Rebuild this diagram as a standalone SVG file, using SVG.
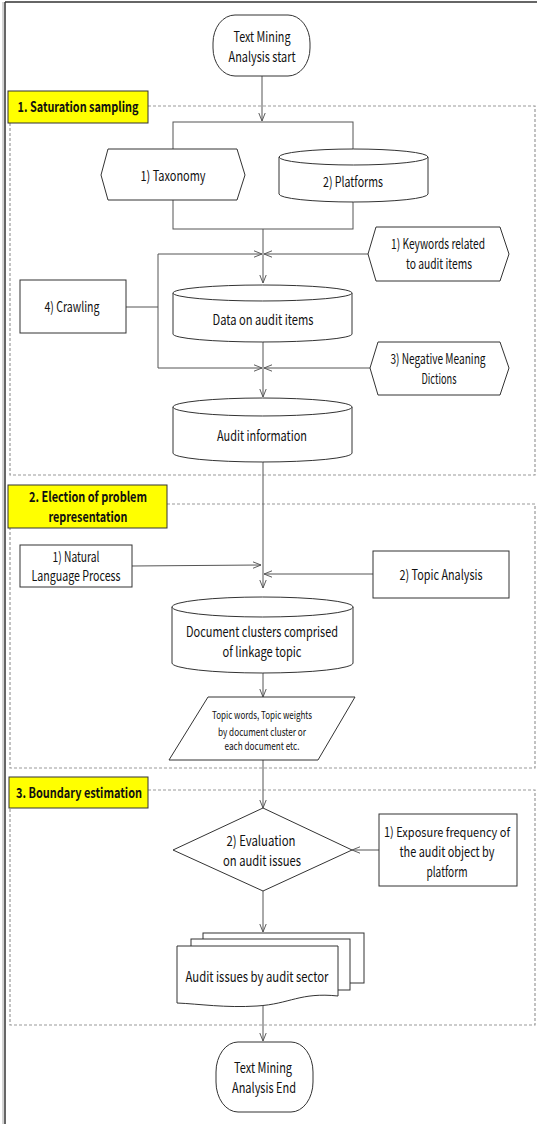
<svg xmlns="http://www.w3.org/2000/svg" width="537" height="1124" viewBox="0 0 537 1124">
<defs>
<style>
.t{font-family:"Noto Sans CJK KR","Liberation Sans",sans-serif;font-size:14px;fill:#111;text-anchor:middle}
.s{font-size:11px}
.m{font-size:13px}
.b{font-weight:bold;font-size:14px}
.n{fill:#fff;stroke:#333;stroke-width:1}
.y{fill:#ffff00;stroke:#333;stroke-width:1}
.c{fill:none;stroke:#555;stroke-width:1}
.a{marker-end:url(#ar)}
.d{fill:none;stroke:#999;stroke-width:1.2;stroke-dasharray:3,2}
</style>
<marker id="ar" viewBox="0 0 10 10" refX="10" refY="5" markerWidth="8" markerHeight="8" orient="auto" markerUnits="userSpaceOnUse">
<path d="M0,1 L10,5 L0,9" fill="none" stroke="#555" stroke-width="1.2"/>
</marker>
</defs>
<rect width="537" height="1124" fill="#fff"/>
<g id="frame">
<line x1="3" y1="2" x2="3" y2="1124" stroke="#aaa" stroke-width="1"/>
<line x1="5" y1="2" x2="5" y2="1124" stroke="#333" stroke-width="1.5"/>
<line x1="5" y1="2" x2="537" y2="2" stroke="#333" stroke-width="1.5"/>
</g>
<g id="sections">
<path class="d" d="M148,106 H535 V475 H10 V123"/>
<path class="d" d="M167,504 H535 V768 H10 V528"/>
<path class="d" d="M148,790 H535 V1025 H10 V808"/>
</g>
<g id="connectors">
<line class="c a" x1="262" y1="76" x2="262" y2="121"/>
<rect class="c" x="173" y="122" width="180" height="107"/>
<line class="c a" x1="263" y1="229" x2="263" y2="283"/>
<line class="c a" x1="368" y1="254" x2="264" y2="254"/>
<line class="c" x1="126" y1="307" x2="158" y2="307"/>
<path class="c a" d="M158,307 V254 H262"/>
<path class="c a" d="M158,307 V368 H262"/>
<line class="c a" x1="370" y1="368" x2="264" y2="368"/>
<line class="c a" x1="263" y1="342" x2="263" y2="397"/>
<line class="c a" x1="263" y1="462" x2="263" y2="588"/>
<line class="c a" x1="132" y1="566" x2="261" y2="565"/>
<line class="c a" x1="373" y1="574" x2="264" y2="574"/>
<line class="c a" x1="263" y1="673" x2="263" y2="697"/>
<line class="c a" x1="263" y1="760" x2="263" y2="808"/>
<line class="c a" x1="379" y1="850" x2="352" y2="850"/>
<line class="c a" x1="263" y1="891" x2="263" y2="932"/>
<line class="c a" x1="263" y1="1003" x2="263" y2="1041"/>
</g>
<g id="start">
<rect class="n" x="213" y="15" width="97" height="61" rx="22" ry="28"/>
<text class="t" x="262" y="42" textLength="57" lengthAdjust="spacingAndGlyphs">Text Mining</text>
<text class="t" x="262" y="62" textLength="67" lengthAdjust="spacingAndGlyphs">Analysis start</text>
</g>
<g id="label1">
<rect class="y" x="8" y="91" width="140" height="32"/>
<text class="t b" x="78" y="112" textLength="121" lengthAdjust="spacingAndGlyphs">1. Saturation sampling</text>
</g>
<g id="taxonomy">
<polygon class="n" points="108,149 237,149 245,175 237,200 108,200 101,175"/>
<text class="t" x="173" y="181" textLength="65" lengthAdjust="spacingAndGlyphs">1) Taxonomy</text>
</g>
<g id="platforms">
<path class="n" d="M279,157 A74.5,8 0 0 1 428,157 L428,194 A74.5,8 0 0 1 279,194 Z"/>
<path class="n" d="M279,157 A74.5,8 0 0 0 428,157"/>
<text class="t" x="353" y="187" textLength="60" lengthAdjust="spacingAndGlyphs">2) Platforms</text>
</g>
<g id="keywords">
<polygon class="n" points="376,227 500,227 509,254 500,281 376,281 368,254"/>
<text class="t" x="438" y="249" textLength="94" lengthAdjust="spacingAndGlyphs">1) Keywords related</text>
<text class="t" x="439" y="269" textLength="66" lengthAdjust="spacingAndGlyphs">to audit items</text>
</g>
<g id="crawling">
<rect class="n" x="20" y="280" width="106" height="53"/>
<text class="t" x="72" y="312" textLength="55" lengthAdjust="spacingAndGlyphs">4) Crawling</text>
</g>
<g id="data">
<path class="n" d="M173,293 A89.5,8 0 0 1 352,293 L352,334 A89.5,8 0 0 1 173,334 Z"/>
<path class="n" d="M173,293 A89.5,8 0 0 0 352,293"/>
<text class="t" x="263" y="325" textLength="101" lengthAdjust="spacingAndGlyphs">Data on audit items</text>
</g>
<g id="negative">
<polygon class="n" points="378,342 500,342 509,368 500,395 378,395 370,368"/>
<text class="t" x="438" y="364" textLength="95" lengthAdjust="spacingAndGlyphs">3) Negative Meaning</text>
<text class="t" x="439" y="384" textLength="35" lengthAdjust="spacingAndGlyphs">Dictions</text>
</g>
<g id="auditinfo">
<path class="n" d="M173,407 A89.5,9 0 0 1 352,407 L352,453 A89.5,9 0 0 1 173,453 Z"/>
<path class="n" d="M173,407 A89.5,9 0 0 0 352,407"/>
<text class="t" x="262" y="441" textLength="90" lengthAdjust="spacingAndGlyphs">Audit information</text>
</g>
<g id="label2">
<rect class="y" x="8" y="485" width="159" height="43"/>
<text class="t b" x="88" y="502" textLength="118" lengthAdjust="spacingAndGlyphs">2. Election of problem</text>
<text class="t b" x="88" y="522" textLength="79" lengthAdjust="spacingAndGlyphs">representation</text>
</g>
<g id="nlp">
<rect class="n" x="20" y="545" width="112" height="42"/>
<text class="t" x="76" y="562" textLength="47" lengthAdjust="spacingAndGlyphs">1) Natural</text>
<text class="t" x="76" y="581" textLength="89" lengthAdjust="spacingAndGlyphs">Language Process</text>
</g>
<g id="topic">
<rect class="n" x="373" y="551" width="136" height="47"/>
<text class="t" x="441" y="580" textLength="83" lengthAdjust="spacingAndGlyphs">2) Topic Analysis</text>
</g>
<g id="docclusters">
<path class="n" d="M172,607 A90.5,10 0 0 1 353,607 L353,663 A90.5,10 0 0 1 172,663 Z"/>
<path class="n" d="M172,607 A90.5,10 0 0 0 353,607"/>
<text class="t" x="262" y="637" textLength="152" lengthAdjust="spacingAndGlyphs">Document clusters comprised</text>
<text class="t" x="262" y="657" textLength="79" lengthAdjust="spacingAndGlyphs">of linkage topic</text>
</g>
<g id="topicwords">
<polygon class="n" points="208,697 355,697 318,760 169,760"/>
<text class="t s" x="262" y="719" textLength="100" lengthAdjust="spacingAndGlyphs">Topic words, Topic weights</text>
<text class="t s" x="262" y="736" textLength="88" lengthAdjust="spacingAndGlyphs">by document cluster or</text>
<text class="t s" x="262" y="750" textLength="75" lengthAdjust="spacingAndGlyphs">each document etc.</text>
</g>
<g id="label3">
<rect class="y" x="9" y="777" width="139" height="31"/>
<text class="t b" x="79" y="798" textLength="126" lengthAdjust="spacingAndGlyphs">3. Boundary estimation</text>
</g>
<g id="evaluation">
<polygon class="n" points="263,808 352,850 263,891 173,850"/>
<text class="t" x="261" y="846" textLength="69" lengthAdjust="spacingAndGlyphs">2) Evaluation</text>
<text class="t" x="262" y="866" textLength="78" lengthAdjust="spacingAndGlyphs">on audit issues</text>
</g>
<g id="exposure">
<rect class="n" x="379" y="814" width="138" height="72"/>
<text class="t m" x="447" y="837" textLength="126" lengthAdjust="spacingAndGlyphs">1) Exposure frequency of</text>
<text class="t" x="447" y="857" textLength="95" lengthAdjust="spacingAndGlyphs">the audit object by</text>
<text class="t" x="447" y="877" textLength="41" lengthAdjust="spacingAndGlyphs">platform</text>
</g>
<g id="auditissues">
<rect class="n" x="203" y="933" width="161" height="50"/>
<rect class="n" x="191" y="939" width="159" height="51"/>
<path class="n" d="M177,946 H338 V996 C300,992 290,1004 257,1006 C225,1008 200,1004 177,1003 Z"/>
<text class="t" x="257" y="982" textLength="143" lengthAdjust="spacingAndGlyphs">Audit issues by audit sector</text>
</g>
<g id="end">
<rect class="n" x="216" y="1042" width="97" height="70" rx="22" ry="30"/>
<text class="t" x="263" y="1073" textLength="58" lengthAdjust="spacingAndGlyphs">Text Mining</text>
<text class="t" x="264" y="1093" textLength="64" lengthAdjust="spacingAndGlyphs">Analysis End</text>
</g>
</svg>
